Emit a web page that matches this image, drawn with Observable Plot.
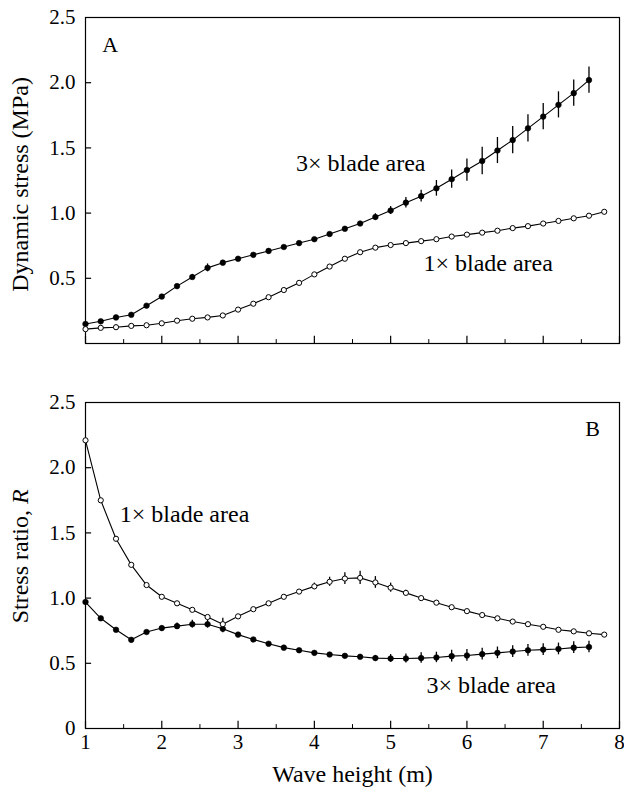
<!DOCTYPE html>
<html><head><meta charset="utf-8">
<script src="https://cdn.jsdelivr.net/npm/d3@7"></script>
<script src="https://cdn.jsdelivr.net/npm/@observablehq/plot@0.6"></script>
<style>
body{margin:0;background:#fff}
#chart svg{display:block}
#chart svg, #chart svg text{font-family:"Liberation Serif","Times New Roman",serif !important}
</style>
</head><body><div id="chart"></div>
<script>
// Wave heights (m)
const wave3 = [1.0,1.2,1.4,1.6,1.8,2.0,2.2,2.4,2.6,2.8,3.0,3.2,3.4,3.6,3.8,4.0,4.2,4.4,4.6,4.8,5.0,5.2,5.4,5.6,5.8,6.0,6.2,6.4,6.6,6.8,7.0,7.2,7.4,7.6];
const wave1 = [1.0,1.2,1.4,1.6,1.8,2.0,2.2,2.4,2.6,2.8,3.0,3.2,3.4,3.6,3.8,4.0,4.2,4.4,4.6,4.8,5.0,5.2,5.4,5.6,5.8,6.0,6.2,6.4,6.6,6.8,7.0,7.2,7.4,7.6,7.8];

// Panel A: dynamic stress (MPa)
const stressA3 = [0.15,0.17,0.20,0.22,0.29,0.36,0.44,0.51,0.58,0.62,0.65,0.68,0.71,0.74,0.77,0.80,0.84,0.88,0.92,0.97,1.02,1.08,1.13,1.19,1.26,1.33,1.40,1.48,1.56,1.65,1.74,1.83,1.92,2.02];
const errA3    = [0,0,0,0,0,0,0.01,0.02,0.03,0.015,0.01,0.01,0.01,0.01,0.01,0.01,0.01,0.015,0.015,0.025,0.03,0.04,0.045,0.06,0.07,0.085,0.105,0.10,0.105,0.105,0.10,0.10,0.10,0.10];
const stressA1 = [0.11,0.12,0.125,0.135,0.14,0.155,0.175,0.19,0.20,0.215,0.26,0.305,0.355,0.41,0.465,0.53,0.59,0.65,0.70,0.735,0.755,0.77,0.785,0.80,0.82,0.835,0.85,0.865,0.885,0.90,0.92,0.94,0.96,0.98,1.01];

// Panel B: stress ratio R
const ratioB1 = [2.21,1.75,1.455,1.255,1.10,1.01,0.96,0.91,0.855,0.80,0.86,0.915,0.96,1.01,1.05,1.09,1.125,1.15,1.155,1.12,1.08,1.04,1.00,0.965,0.93,0.90,0.87,0.845,0.82,0.80,0.78,0.757,0.745,0.73,0.72];
const errB1   = [0,0,0,0,0,0,0,0,0.01,0.045,0.015,0.01,0.01,0.01,0.015,0.025,0.035,0.045,0.05,0.045,0.035,0.02,0.01,0.01,0,0,0,0,0,0,0,0,0,0,0];
const ratioB3 = [0.97,0.845,0.757,0.68,0.74,0.77,0.785,0.80,0.80,0.765,0.72,0.683,0.65,0.62,0.60,0.58,0.567,0.557,0.55,0.54,0.537,0.537,0.54,0.545,0.555,0.56,0.57,0.58,0.59,0.60,0.605,0.61,0.62,0.625];
const errB3   = [0,0,0,0,0.01,0.015,0.025,0.03,0.03,0.03,0.01,0.01,0.01,0.01,0.01,0.01,0.01,0.01,0.015,0.02,0.03,0.035,0.04,0.04,0.045,0.045,0.045,0.045,0.045,0.045,0.045,0.045,0.045,0.045];

// Ticks and labels
const xMajor = [1,2,3,4,5,6,7,8];
const xMinor = [1.5,2.5,3.5,4.5,5.5,6.5,7.5];
const yTicksA = [0.5,1.0,1.5,2.0,2.5];
const yTicksB = [0,0.5,1.0,1.5,2.0,2.5];
const seriesLabel1 = "1\u00d7 blade area";
const seriesLabel3 = "3\u00d7 blade area";
const yTitleA = "Dynamic stress (MPa)";
const yTitleB = "Stress ratio, R";
const xTitle = "Wave height (m)";

const FONT = "Liberation Serif, Times New Roman, serif";
const rows = (xs, ys, es) => xs.map((x, i) => ({x, y: ys[i], e: es ? es[i] : 0}));

function panel({s1, s3, yTicks, yFmt, showX, height, marginTop, marginBottom, notes, yTitle}) {
  const marks = [
    Plot.frame({stroke: "black", strokeWidth: 1.2}),
    Plot.ruleX(xMajor, {x: d => d, y1: 0, y2: 0.055, stroke: "black", strokeWidth: 1.2}),
    Plot.ruleX(xMinor, {x: d => d, y1: 0, y2: 0.03, stroke: "black", strokeWidth: 1}),
    Plot.ruleY(yTicks.filter(d => d > 0 && d < 2.5), {y: d => d, x1: 1, x2: 1.08, stroke: "black", strokeWidth: 1.2}),
    Plot.axisY(yTicks, {tickSize: 0, tickPadding: 10, tickFormat: yFmt, fontSize: 21, label: null, fontFamily: FONT}),
    showX ? Plot.axisX(xMajor, {tickSize: 0, tickPadding: 6, tickFormat: d => String(d), fontSize: 21, label: null, fontFamily: FONT}) : null,
    // error bars
    Plot.ruleX(s3.filter(d => d.e > 0), {x: "x", y1: d => d.y - d.e, y2: d => d.y + d.e, stroke: "black", strokeWidth: 1.3}),
    Plot.ruleX(s1.filter(d => d.e > 0), {x: "x", y1: d => d.y - d.e, y2: d => d.y + d.e, stroke: "black", strokeWidth: 1.3}),
    Plot.line(s3, {x: "x", y: "y", stroke: "black", strokeWidth: 1.1}),
    Plot.line(s1, {x: "x", y: "y", stroke: "black", strokeWidth: 1.1}),
    Plot.dot(s3, {x: "x", y: "y", r: 2.8, fill: "black", stroke: "black", strokeWidth: 0.6}),
    Plot.dot(s1, {x: "x", y: "y", r: 2.6, fill: "white", stroke: "black", strokeWidth: 1}),
    Plot.text(notes, {x: "x", y: "y", text: "text", textAnchor: "start", lineAnchor: "middle", fontSize: "size", fill: "black", fontFamily: FONT}),
    Plot.text([yTitle], {y: "y", text: "text", frameAnchor: "left", textAnchor: "middle", lineAnchor: "middle", rotate: -90, dx: -65, fontSize: 24, fill: "black", fontFamily: FONT}),
    showX ? Plot.text([{x: 4.5, text: xTitle}], {x: "x", text: "text", frameAnchor: "bottom", textAnchor: "middle", dy: 53, fontSize: 24, fill: "black", fontFamily: FONT}) : null
  ].filter(Boolean);
  return Plot.plot({
    width: 624, height, marginTop, marginBottom, marginLeft: 85, marginRight: 5,
    x: {domain: [1, 8], axis: null},
    y: {domain: [0, 2.5], axis: null},
    style: {fontFamily: FONT, fontSize: "21px", color: "black", background: "white", overflow: "visible"},
    marks
  });
}

const plotA = panel({
  s1: rows(wave1, stressA1), s3: rows(wave3, stressA3, errA3),
  yTicks: yTicksA, yFmt: d => d.toFixed(1), showX: false,
  height: 360, marginTop: 17, marginBottom: 17,
  notes: [
    {x: 1.22, y: 2.29, text: "A", size: 22},
    {x: 3.76, y: 1.385, text: seriesLabel3, size: 24},
    {x: 5.43, y: 0.615, text: seriesLabel1, size: 24}
  ],
  yTitle: {y: 1.22, text: yTitleA}
});
const plotB = panel({
  s1: rows(wave1, ratioB1, errB1), s3: rows(wave3, ratioB3, errB3),
  yTicks: yTicksB, yFmt: d => d === 0 ? "0" : d.toFixed(1), showX: true,
  height: 434, marginTop: 42, marginBottom: 66,
  notes: [
    {x: 7.55, y: 2.30, text: "B", size: 22},
    {x: 1.45, y: 1.64, text: seriesLabel1, size: 24},
    {x: 5.47, y: 0.33, text: seriesLabel3, size: 24}
  ],
  yTitle: {y: 1.32, text: yTitleB}
});

const chart = document.getElementById("chart");
chart.append(plotA, plotB);

// italic R in the stress-ratio title
d3.select(plotB).selectAll("text").each(function() {
  if (this.textContent === yTitleB) {
    this.textContent = "Stress ratio, ";
    const t = document.createElementNS("http://www.w3.org/2000/svg", "tspan");
    t.setAttribute("font-style", "italic");
    t.textContent = "R";
    this.appendChild(t);
  }
});
</script>
</body></html>
